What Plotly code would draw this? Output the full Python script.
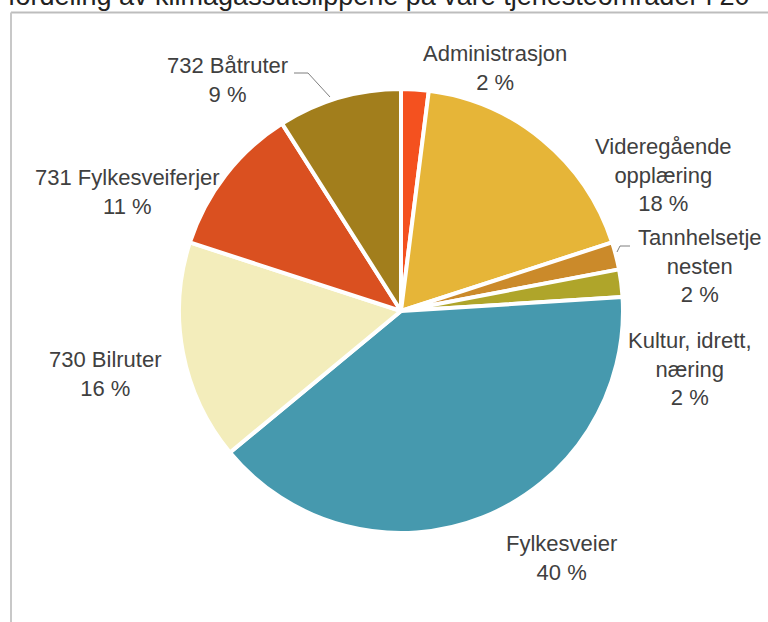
import plotly.graph_objects as go

# ---- data ----
labels = ["Administrasjon", "Videregående opplæring", "Tannhelsetjenesten",
          "Kultur, idrett, næring", "Fylkesveier", "730 Bilruter",
          "731 Fylkesveiferjer", "732 Båtruter"]
values = [2, 18, 2, 2, 40, 16, 11, 9]
label_text = ["Administrasjon", "Videregående<br>opplæring", "Tannhelsetje<br>nesten",
              "Kultur, idrett,<br>næring", "Fylkesveier", "730 Bilruter",
              "731 Fylkesveiferjer", "732 Båtruter"]
colors = ["#F4511F", "#E6B538", "#CB8A2A", "#AFA52A",
          "#4699AE", "#F3EDBB", "#DA5020", "#A27E1C"]
title_text = "fordeling av klimagassutslippene på våre tjenesteområder i 20"

W, H = 768, 622
def px(x):
    return x / W
def py(y):
    return 1 - y / H

# label block centres (pixels)
label_pos = [(495, 68), (663, 175), (700, 266), (690, 369),
             (561, 558), (105, 374), (127, 192), (227, 80)]

cx, cy, r = 401, 311, 222

fig = go.Figure(go.Pie(
    labels=labels, values=values, sort=False, direction="clockwise",
    rotation=0, textinfo="none", hoverinfo="label+percent",
    marker=dict(colors=colors, line=dict(color="white", width=4)),
    domain=dict(x=[px(cx - r), px(cx + r)], y=[py(cy + r), py(cy - r)]),
    showlegend=False,
))

annotations = []
for t, v, (x, y) in zip(label_text, values, label_pos):
    annotations.append(dict(
        x=px(x), y=py(y), xref="paper", yref="paper",
        text=f"{t}<br>{v:g} %", showarrow=False,
        xanchor="center", yanchor="middle", align="center",
        font=dict(family="Liberation Sans, Arial", size=22, color="#404040"),
    ))

# cut-off title
annotations.append(dict(
    x=px(6), y=py(13), xref="paper", yref="paper", text=title_text,
    showarrow=False, xanchor="left", yanchor="bottom",
    font=dict(family="Liberation Sans, Arial", size=27, color="#222222"),
))

shapes = [
    # frame (top & left borders)
    dict(type="line", xref="paper", yref="paper", x0=px(11), x1=px(790),
         y0=py(12.5), y1=py(12.5), line=dict(color="#BDBDBD", width=2)),
    dict(type="line", xref="paper", yref="paper", x0=px(11), x1=px(11),
         y0=py(12.5), y1=py(640), line=dict(color="#C8C8C8", width=2)),
    # leader lines
    dict(type="path", xref="paper", yref="paper",
         path=f"M {px(294)},{py(73)} L {px(308)},{py(73)} L {px(330)},{py(97)}",
         line=dict(color="#7F7F7F", width=1)),
    dict(type="path", xref="paper", yref="paper",
         path=f"M {px(617)},{py(252)} L {px(620)},{py(246)} L {px(630)},{py(246)}",
         line=dict(color="#7F7F7F", width=1)),
]

fig.update_layout(
    width=W, height=H, margin=dict(l=0, r=0, t=0, b=0),
    paper_bgcolor="white", plot_bgcolor="white",
    annotations=annotations, shapes=shapes,
)

fig.write_html("out.html", config={"displayModeBar": False},
               post_script="document.body.style.margin='0';")
